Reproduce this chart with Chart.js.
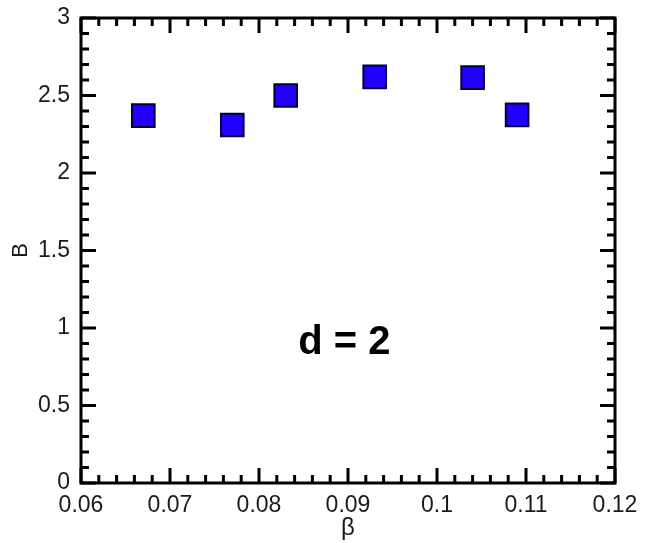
<!DOCTYPE html>
<html><head><meta charset="utf-8">
<script src="https://cdn.jsdelivr.net/npm/chart.js@4/dist/chart.umd.min.js"></script>
<style>html,body{margin:0;padding:0;background:#fff}</style>
</head><body>
<canvas id="c" width="650" height="543"></canvas>
<script>
// ---- data ----
const betaValues = [0.067, 0.077, 0.083, 0.093, 0.104, 0.109];
const bValues    = [2.37, 2.31, 2.50, 2.62, 2.615, 2.375];
const xTickValues = [0.06, 0.07, 0.08, 0.09, 0.10, 0.11, 0.12];
const yTickValues = [0, 0.5, 1, 1.5, 2, 2.5, 3];
const xTitle = 'β';
const yTitle = 'B';
const annotationText = 'd = 2';

// ---- layout / style constants ----
const ANNOT_POS = {x: 0.0896, y: 0.833};
const FONT = '"Liberation Sans", Arial, Helvetica, sans-serif';
const MINOR_DIV = 5;

const points = betaValues.map((b, i) => ({x: b, y: bValues[i]}));

const framePlugin = {
  id: 'frame',
  afterDatasetsDraw(chart) {
    const {ctx, chartArea: a, scales: {x, y}} = chart;
    ctx.save();
    ctx.strokeStyle = '#000';
    ctx.lineWidth = 3;
    ctx.lineCap = 'butt';
    const majorLen = 15, minorLen = 8;
    ctx.beginPath();
    for (let i = 0; i < xTickValues.length; i++) {
      const px = x.getPixelForValue(xTickValues[i]);
      ctx.moveTo(px, a.bottom); ctx.lineTo(px, a.bottom - majorLen);
      ctx.moveTo(px, a.top); ctx.lineTo(px, a.top + majorLen);
      if (i < xTickValues.length - 1) {
        const step = (xTickValues[i + 1] - xTickValues[i]) / MINOR_DIV;
        for (let k = 1; k < MINOR_DIV; k++) {
          const mp = x.getPixelForValue(xTickValues[i] + k * step);
          ctx.moveTo(mp, a.bottom); ctx.lineTo(mp, a.bottom - minorLen);
          ctx.moveTo(mp, a.top); ctx.lineTo(mp, a.top + minorLen);
        }
      }
    }
    for (let i = 0; i < yTickValues.length; i++) {
      const py = y.getPixelForValue(yTickValues[i]);
      ctx.moveTo(a.left, py); ctx.lineTo(a.left + majorLen, py);
      ctx.moveTo(a.right, py); ctx.lineTo(a.right - majorLen, py);
      if (i < yTickValues.length - 1) {
        const step = (yTickValues[i + 1] - yTickValues[i]) / MINOR_DIV;
        for (let k = 1; k < MINOR_DIV; k++) {
          const mp = y.getPixelForValue(yTickValues[i] + k * step);
          ctx.moveTo(a.left, mp); ctx.lineTo(a.left + minorLen, mp);
          ctx.moveTo(a.right, mp); ctx.lineTo(a.right - minorLen, mp);
        }
      }
    }
    ctx.stroke();
    ctx.strokeRect(a.left, a.top, a.right - a.left, a.bottom - a.top);
    ctx.fillStyle = '#000';
    ctx.font = 'bold 40px ' + FONT;
    ctx.textAlign = 'center';
    ctx.textBaseline = 'alphabetic';
    ctx.fillText(annotationText, x.getPixelForValue(ANNOT_POS.x), y.getPixelForValue(ANNOT_POS.y));
    ctx.restore();
  }
};

new Chart(document.getElementById('c'), {
  type: 'scatter',
  data: {
    datasets: [{
      data: points,
      pointStyle: 'rect',
      pointRadius: 16,
      pointHoverRadius: 16,
      backgroundColor: '#2200ff',
      borderColor: '#00003a',
      borderWidth: 2,
      showLine: false
    }]
  },
  options: {
    responsive: false,
    devicePixelRatio: 1,
    animation: false,
    layout: {padding: {top: 15, right: 35, bottom: 0, left: 0}},
    plugins: {legend: {display: false}, tooltip: {enabled: false}},
    scales: {
      x: {
        type: 'linear',
        min: 0.06, max: 0.12,
        afterBuildTicks: s => { s.ticks = xTickValues.map(v => ({value: v})); },
        afterFit: s => { s.height = 60; s.paddingLeft = 0; s.paddingRight = 0; },
        grid: {display: false, drawTicks: false},
        border: {display: false},
        ticks: {
          autoSkip: false, maxRotation: 0,
          padding: 9,
          color: '#1a1a1a',
          font: {family: FONT, size: 23},
          callback: v => String(+Number(v).toFixed(2))
        },
        title: {display: true, text: xTitle, color: '#1a1a1a',
          font: {family: FONT, size: 24}, padding: {top: 0, bottom: 0}}
      },
      y: {
        type: 'linear',
        min: 0, max: 3,
        afterBuildTicks: s => { s.ticks = yTickValues.map(v => ({value: v})); },
        afterFit: s => { s.width = 81; s.paddingTop = 0; s.paddingBottom = 0; },
        grid: {display: false, drawTicks: false},
        border: {display: false},
        ticks: {
          autoSkip: false,
          padding: 11,
          color: '#1a1a1a',
          font: {family: FONT, size: 23},
          callback: v => String(+Number(v).toFixed(1))
        },
        title: {display: true, text: yTitle, color: '#1a1a1a',
          font: {family: FONT, size: 22}, padding: {top: 8, bottom: 0}}
      }
    }
  },
  plugins: [framePlugin]
});
</script>
</body></html>
